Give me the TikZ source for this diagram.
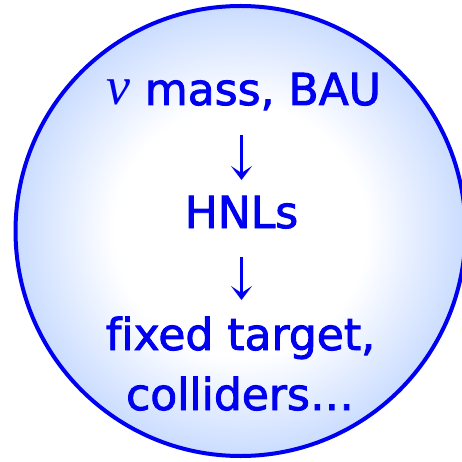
\documentclass[tikz,border=0pt]{standalone}
\usepackage{fontspec}
\setmainfont{DejaVu Sans}[Ligatures=NoCommon, RawFeature={embolden=2}]
\newfontfamily\greekfont{Liberation Serif}
\usetikzlibrary{arrows.meta, positioning}
\definecolor{rimblue}{RGB}{0,0,240}
\definecolor{edgeblue}{RGB}{202,220,255}
\pgfdeclareradialshading{bubble}{\pgfpoint{0bp}{0bp}}{color(0bp)=(white); color(14bp)=(white); color(25bp)=(edgeblue); color(50bp)=(edgeblue)}

\begin{document}
\begin{tikzpicture}[x=1pt, y=-1pt, every node/.style={font=\fontsize{44}{50}\selectfont, text=rimblue, inner sep=0pt, anchor=base}]
\tikzstyle{bubbleline} = [draw=rimblue, line width=4pt, shading=bubble]
\tikzstyle{flow} = [-{Stealth[length=14pt, width=21pt, inset=7pt]}, draw=rimblue, line width=2.4pt]

\useasboundingbox (0,0) rectangle (462,462);

% Circle
\path[bubbleline] (240.5,231) circle[radius=225];

% Nodes
\node (mass) at (244,105) {{\greekfont\itshape\fontsize{54}{54}\selectfont ν} mass, BAU};
\node (hnl) at (241.5,228) {HNLs};
\node (fixed) at (240.5,350) {fixed target,};
\node (coll) at (240,410) {colliders…};

% Arrows
\draw[flow] ([yshift=-30pt]mass.base -| hnl.base) -- ([yshift=48pt]hnl.base);
\draw[flow] ([yshift=-29pt]hnl.base) -- ([yshift=50pt]fixed.base -| hnl.base);

\end{tikzpicture}
\end{document}
